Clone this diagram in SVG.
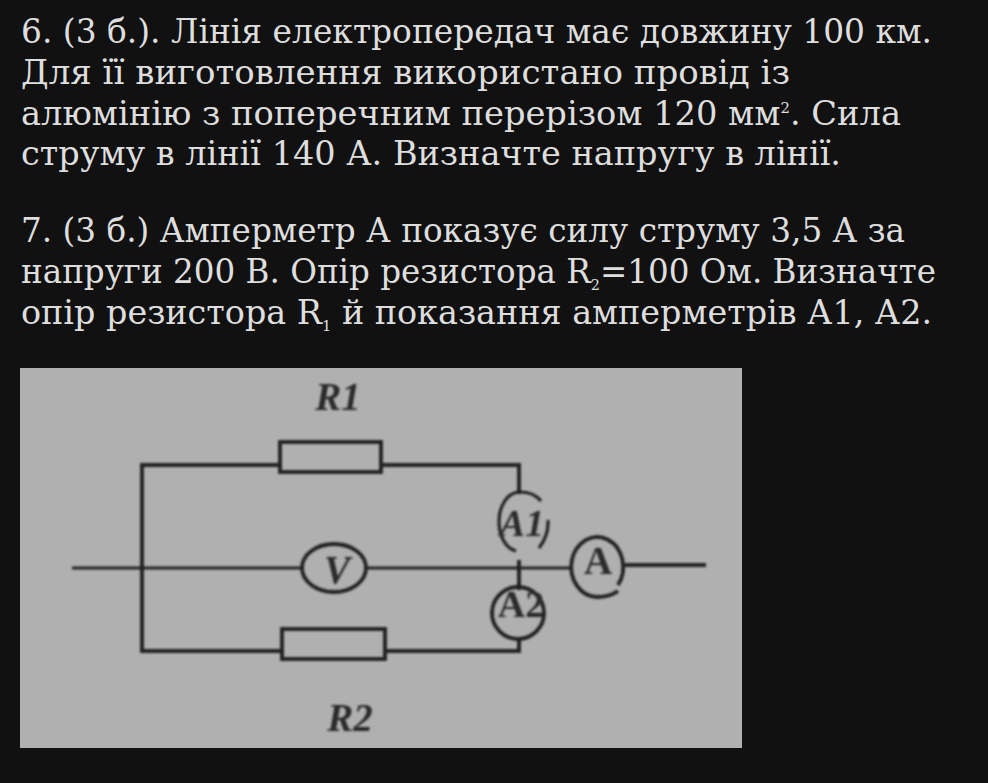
<svg xmlns="http://www.w3.org/2000/svg" width="988" height="783" viewBox="0 0 988 783">
<defs><filter id="b" x="-10%" y="-10%" width="120%" height="120%"><feGaussianBlur stdDeviation="0.8"/></filter></defs>
<style>
.t{font-family:"DejaVu Serif","Liberation Serif",serif;font-size:34px;fill:#dedede}
.s{font-size:15px}
.w{fill:none;stroke:#202020;stroke-width:3.8}
.m{fill:none;stroke:#202020;stroke-width:3.2}
.l{font-family:"Liberation Serif","Times New Roman",serif;font-size:39px;font-weight:bold;fill:#2c2c2c;text-anchor:middle}
.i{font-style:italic}
</style>
<rect width="988" height="783" fill="#111111"/>
<g id="text">
<text class="t" x="21" y="43" textLength="911" lengthAdjust="spacingAndGlyphs">6. (3 б.). Лінія електропередач має довжину 100 км.</text>
<text class="t" x="21" y="84" textLength="769" lengthAdjust="spacingAndGlyphs">Для її виготовлення використано провід із</text>
<text class="t" x="21" y="125" textLength="880" lengthAdjust="spacingAndGlyphs">алюмінію з поперечним перерізом 120 мм<tspan class="s" dy="-12">2</tspan><tspan dy="12">. Сила</tspan></text>
<text class="t" x="21" y="165" textLength="820" lengthAdjust="spacingAndGlyphs">струму в лінії 140 А. Визначте напругу в лінії.</text>
<text class="t" x="21" y="242" textLength="884" lengthAdjust="spacingAndGlyphs">7. (3 б.) Амперметр А показує силу струму 3,5 А за</text>
<text class="t" x="21" y="283" textLength="915" lengthAdjust="spacingAndGlyphs">напруги 200 В. Опір резистора R<tspan class="s" dy="7">2</tspan><tspan dy="-7">=100 Ом. Визначте</tspan></text>
<text class="t" x="21" y="324" textLength="911" lengthAdjust="spacingAndGlyphs">опір резистора R<tspan class="s" dy="7">1</tspan><tspan dy="-7"> й показання амперметрів А1, А2.</tspan></text>
</g>
<rect x="20" y="368" width="722" height="380" fill="#b0b0b0"/>
<g filter="url(#b)">
<g id="connectors">
<path class="w" d="M279 465H142V651H281"/>
<path class="w" d="M382 465H519V494"/>
<path class="w" d="M385 651H519V640"/>
<path class="m" d="M72 568H302"/>
<path class="m" d="M367 568H570"/>
<path class="w" d="M625 565H706"/>
<path class="w" d="M519 560V590"/>
</g>
<g id="R1"><rect class="w" x="280" y="442" width="101" height="30"/><text class="l i" x="338" y="410">R1</text></g>
<g id="R2"><rect class="w" x="282" y="629" width="103" height="30"/><text class="l i" x="350" y="731">R2</text></g>
<g id="V"><ellipse class="w" cx="334" cy="568" rx="32" ry="24"/><text class="l i" x="337" y="583">V</text></g>
<g id="A1"><path class="m" d="M516 551C505 548 499 535 499 522C499 505 508 492 520 492C530 492 537 496 541 501M548 520Q549 535 539 548"/><text class="l i" x="522" y="536" style="font-size:38px">A1</text></g>
<g id="A2"><circle class="w" cx="518" cy="613" r="26"/><text class="l" x="521" y="617" style="font-size:38px">A2</text></g>
<g id="A"><path class="w" d="M618 585A26 30 0 1 0 597 597Q610 597 618 591"/><text class="l" x="598" y="574">A</text></g>
</g>
</svg>
